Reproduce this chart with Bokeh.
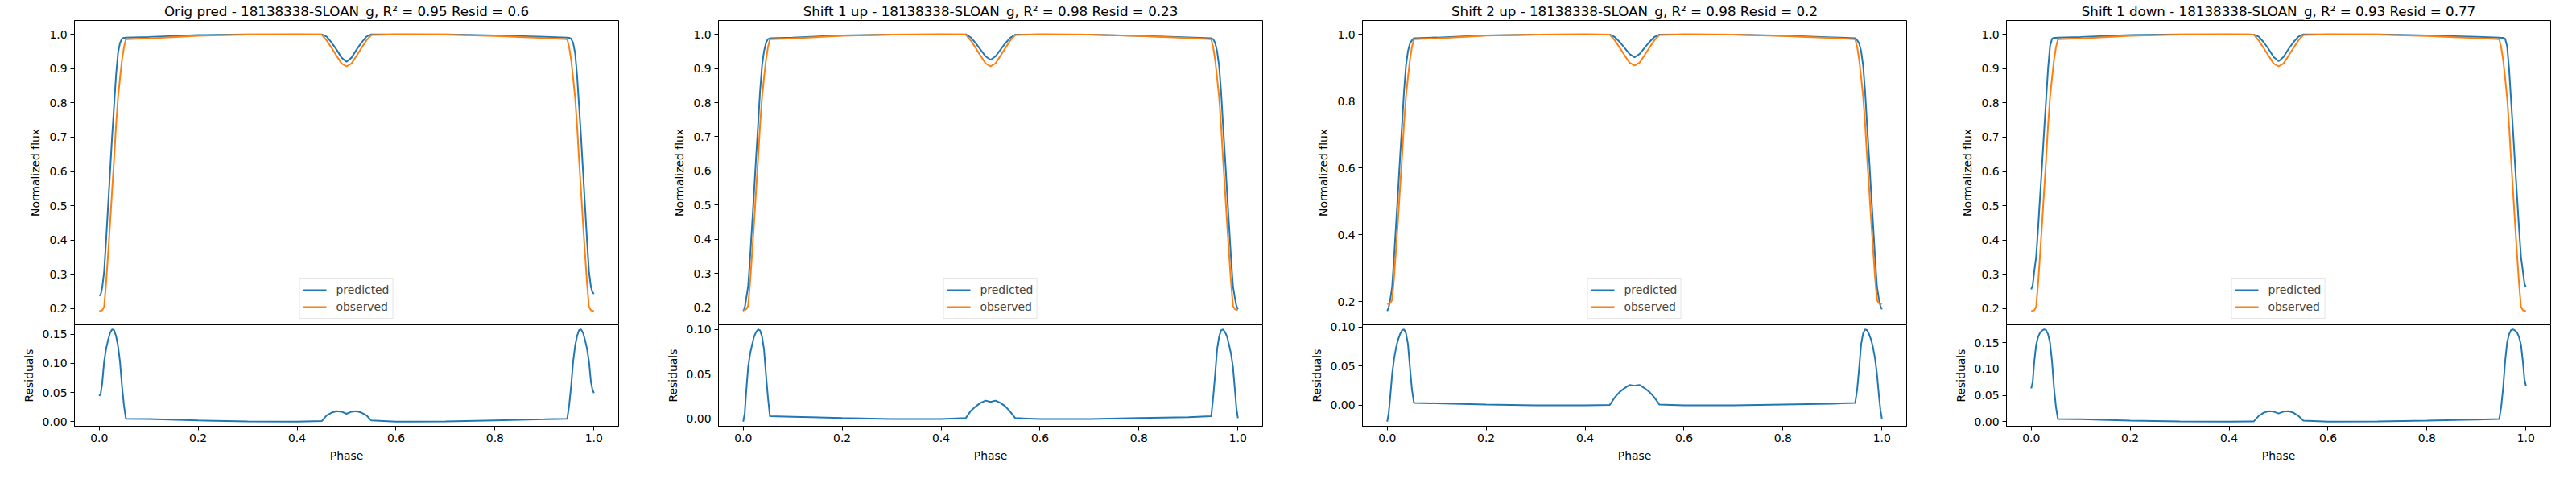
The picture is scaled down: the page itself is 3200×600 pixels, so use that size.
"""予測と観測の光度曲線と残差を4パネルで描く."""
from bokeh.embed import file_html
from bokeh.layouts import column, row
from bokeh.models import FixedTicker, PrintfTickFormatter, Range1d
from bokeh.plotting import figure
from bokeh.resources import INLINE

FONT = "DejaVu Sans"

phase = [0.0, 0.003, 0.006, 0.01, 0.014, 0.018, 0.022, 0.026, 0.03, 0.034, 0.038, 0.042, 0.046, 0.05, 0.054,
         0.1, 0.2, 0.3, 0.4, 0.45,
         0.46, 0.47, 0.48, 0.49, 0.5, 0.51, 0.52, 0.53, 0.54, 0.55,
         0.6, 0.7, 0.8, 0.9,
         0.946, 0.95, 0.954, 0.958, 0.962, 0.966, 0.97, 0.974, 0.978, 0.982, 0.986, 0.99, 0.994, 0.997, 1.0]

observed = [0.193, 0.193, 0.195, 0.205, 0.275, 0.360, 0.448, 0.542, 0.633, 0.733, 0.815, 0.872, 0.925, 0.962, 0.9855,
            0.988, 0.996, 0.9995, 1.0, 0.999,
            0.982, 0.960, 0.937, 0.915, 0.9065, 0.915, 0.937, 0.960, 0.982, 0.998,
            1.0, 0.9995, 0.995, 0.989,
            0.9855, 0.962, 0.925, 0.872, 0.815, 0.733, 0.633, 0.542, 0.448, 0.360, 0.275, 0.205, 0.195, 0.193, 0.194]

pred_orig = [0.237, 0.241, 0.260, 0.308, 0.400, 0.500, 0.600, 0.700, 0.790, 0.880, 0.945, 0.975, 0.987, 0.990, 0.9905,
             0.9925, 0.998, 0.9998, 1.0, 1.0,
             0.993, 0.9755, 0.955, 0.932, 0.920, 0.932, 0.955, 0.9755, 0.993, 1.0,
             1.0, 0.9998, 0.997, 0.993,
             0.9905, 0.990, 0.987, 0.975, 0.945, 0.880, 0.790, 0.700, 0.600, 0.500, 0.400, 0.308, 0.263, 0.248, 0.243]
resid_orig = [0.044, 0.048, 0.065, 0.103, 0.125, 0.140, 0.152, 0.158, 0.157, 0.147, 0.130, 0.103, 0.062, 0.028, 0.005,
              0.0045, 0.002, 0.0003, 0.0, 0.001,
              0.011, 0.0155, 0.018, 0.017, 0.0135, 0.017, 0.018, 0.0155, 0.011, 0.002,
              0.0, 0.0003, 0.002, 0.004,
              0.005, 0.028, 0.062, 0.103, 0.130, 0.147, 0.157, 0.158, 0.152, 0.140, 0.125, 0.103, 0.068, 0.055, 0.049]

pred_up1 = [0.190, 0.199, 0.225, 0.263, 0.348, 0.443, 0.540, 0.639, 0.733, 0.832, 0.907, 0.950, 0.975, 0.986, 0.9885,
            0.9905, 0.997, 0.9995, 1.0, 1.0,
            0.991, 0.974, 0.955, 0.9355, 0.9255, 0.9355, 0.955, 0.974, 0.990, 0.999,
            1.0, 0.9995, 0.996, 0.991,
            0.9885, 0.986, 0.975, 0.950, 0.907, 0.832, 0.733, 0.639, 0.540, 0.443, 0.348, 0.263, 0.227, 0.205, 0.195]
resid_up1 = [-0.003, 0.006, 0.030, 0.058, 0.073, 0.083, 0.092, 0.097, 0.100, 0.099, 0.092, 0.078, 0.050, 0.024, 0.003,
             0.0025, 0.001, 0.0, 0.0, 0.001,
             0.009, 0.014, 0.018, 0.0205, 0.019, 0.0205, 0.018, 0.014, 0.008, 0.001,
             0.0, 0.0, 0.001, 0.002,
             0.003, 0.024, 0.050, 0.078, 0.092, 0.099, 0.100, 0.097, 0.092, 0.083, 0.073, 0.058, 0.032, 0.012, 0.001]

pred_up2 = [0.172, 0.183, 0.205, 0.245, 0.335, 0.434, 0.532, 0.633, 0.729, 0.830, 0.907, 0.950, 0.973, 0.982, 0.9885,
            0.9905, 0.997, 0.9995, 1.0, 0.9995,
            0.992, 0.977, 0.959, 0.941, 0.9315, 0.941, 0.959, 0.977, 0.992, 0.999,
            1.0, 0.9995, 0.996, 0.991,
            0.9885, 0.982, 0.973, 0.950, 0.907, 0.830, 0.729, 0.633, 0.532, 0.434, 0.335, 0.245, 0.207, 0.187, 0.1765]
resid_up2 = [-0.021, -0.010, 0.010, 0.040, 0.060, 0.074, 0.084, 0.091, 0.096, 0.097, 0.092, 0.078, 0.048, 0.020, 0.003,
             0.0025, 0.001, 0.0, 0.0, 0.0005,
             0.010, 0.017, 0.022, 0.026, 0.025, 0.026, 0.022, 0.017, 0.010, 0.001,
             0.0, 0.0, 0.001, 0.002,
             0.003, 0.020, 0.048, 0.078, 0.092, 0.097, 0.096, 0.091, 0.084, 0.074, 0.060, 0.040, 0.012, -0.006, -0.0175]

pred_down1 = [0.256, 0.268, 0.307, 0.351, 0.436, 0.529, 0.621, 0.717, 0.807, 0.899, 0.965, 0.987, 0.990, 0.990, 0.9905,
              0.9925, 0.998, 1.0, 1.0, 0.9995,
              0.993, 0.977, 0.957, 0.934, 0.922, 0.934, 0.957, 0.977, 0.993, 1.0,
              1.0, 1.0, 0.997, 0.993,
              0.9905, 0.990, 0.990, 0.987, 0.965, 0.899, 0.807, 0.717, 0.621, 0.529, 0.436, 0.351, 0.307, 0.273, 0.262]
resid_down1 = [0.063, 0.075, 0.112, 0.146, 0.161, 0.169, 0.173, 0.175, 0.174, 0.166, 0.150, 0.115, 0.065, 0.028, 0.005,
               0.0045, 0.002, 0.0005, 0.0, 0.0005,
               0.011, 0.017, 0.020, 0.019, 0.0155, 0.019, 0.020, 0.017, 0.011, 0.002,
               0.0, 0.0005, 0.002, 0.004,
               0.005, 0.028, 0.065, 0.115, 0.150, 0.166, 0.174, 0.175, 0.173, 0.169, 0.161, 0.146, 0.112, 0.080, 0.068]

titles = [
    "Orig pred - 18138338-SLOAN_g, R² = 0.95 Resid = 0.6",
    "Shift 1 up - 18138338-SLOAN_g, R² = 0.98 Resid = 0.23",
    "Shift 2 up - 18138338-SLOAN_g, R² = 0.98 Resid = 0.2",
    "Shift 1 down - 18138338-SLOAN_g, R² = 0.93 Resid = 0.77",
]

phase_ticks = [0.0, 0.2, 0.4, 0.6, 0.8, 1.0]
flux_ticks_fine = [0.2, 0.3, 0.4, 0.5, 0.6, 0.7, 0.8, 0.9, 1.0]
flux_ticks_coarse = [0.2, 0.4, 0.6, 0.8, 1.0]
resid_ticks_015 = [0.0, 0.05, 0.10, 0.15]
resid_ticks_010 = [0.0, 0.05, 0.10]

BLUE = "#1f77b4"
ORANGE = "#ff7f0e"
OVERLAP = 12  # 残差図のキャンバスを上の図に重ねる量(目盛りラベルが切れないように)


def padded(values):
    """matplotlib風に5%の余白を付けた範囲."""
    lo, hi = min(values), max(values)
    span = hi - lo
    return lo - 0.05 * span, hi + 0.05 * span


def style_axis(axis, ticks, fmt):
    axis.ticker = FixedTicker(ticks=ticks)
    axis.formatter = PrintfTickFormatter(format=fmt)
    axis.minor_tick_line_color = None
    axis.major_tick_in = 0
    axis.major_tick_out = 5
    axis.major_label_standoff = 4
    axis.major_label_text_font = FONT
    axis.major_label_text_font_size = "13.9px"
    axis.major_label_text_color = "black"
    axis.axis_line_color = "black"
    axis.major_tick_line_color = "black"
    axis.axis_label_text_font = FONT
    axis.axis_label_text_font_size = "13.9px"
    axis.axis_label_text_font_style = "normal"
    axis.axis_label_text_color = "black"
    axis.axis_label_standoff = 6


def make_panel(title, pred, resid, flux_ticks, resid_ticks, border_right):
    x_lo, x_hi = padded(phase)
    x_range = Range1d(x_lo, x_hi)
    f_lo, f_hi = padded(pred + observed)
    top = figure(
        title=title, x_range=x_range, y_range=Range1d(f_lo, f_hi),
        frame_width=676, frame_height=378,
        min_border_left=92, min_border_right=border_right, min_border_top=22, min_border_bottom=0,
        x_axis_location=None, toolbar_location=None, output_backend="svg",
    )
    top.title.text_font = FONT
    top.title.text_font_size = "16.7px"
    top.title.text_font_style = "normal"
    top.title.text_color = "black"
    top.title.align = "center"
    top.title.standoff = 3
    top.line(phase, pred, line_color=BLUE, line_width=2, legend_label="predicted")
    top.line(phase, observed, line_color=ORANGE, line_width=2, legend_label="observed")
    top.yaxis.axis_label = "Normalized flux"
    style_axis(top.yaxis[0], flux_ticks, "%.1f")
    top.grid.visible = False
    top.outline_line_color = "black"
    top.outline_line_alpha = 1
    top.legend.location = "bottom_center"
    top.legend.margin = 7
    top.legend.padding = 4
    top.legend.spacing = 1
    top.legend.glyph_width = 29
    top.legend.glyph_height = 20
    top.legend.label_standoff = 12
    top.legend.label_text_font = FONT
    top.legend.label_text_font_size = "13.9px"
    top.legend.border_line_color = "#cccccc"
    top.legend.background_fill_alpha = 0.8

    r_lo, r_hi = padded(resid)
    bottom = figure(
        x_range=x_range, y_range=Range1d(r_lo, r_hi),
        frame_width=676, frame_height=126,
        min_border_left=92, min_border_right=border_right, min_border_top=OVERLAP, min_border_bottom=56,
        margin=(-OVERLAP, 0, 0, 0),
        toolbar_location=None, output_backend="svg",
    )
    bottom.border_fill_alpha = 0
    bottom.line(phase, resid, line_color=BLUE, line_width=2)
    bottom.xaxis.axis_label = "Phase"
    bottom.yaxis.axis_label = "Residuals"
    style_axis(bottom.xaxis[0], phase_ticks, "%.1f")
    style_axis(bottom.yaxis[0], resid_ticks, "%.2f")
    bottom.grid.visible = False
    bottom.outline_line_color = "black"
    bottom.outline_line_alpha = 1
    return column(top, bottom)


panels = [
    make_panel(titles[0], pred_orig, resid_orig, flux_ticks_fine, resid_ticks_015, 32),
    make_panel(titles[1], pred_up1, resid_up1, flux_ticks_fine, resid_ticks_010, 32),
    make_panel(titles[2], pred_up2, resid_up2, flux_ticks_coarse, resid_ticks_010, 32),
    make_panel(titles[3], pred_down1, resid_down1, flux_ticks_fine, resid_ticks_015, 16),
]
layout = row(*panels)

with open("out.html", "w") as f:
    f.write(file_html(layout, INLINE))
